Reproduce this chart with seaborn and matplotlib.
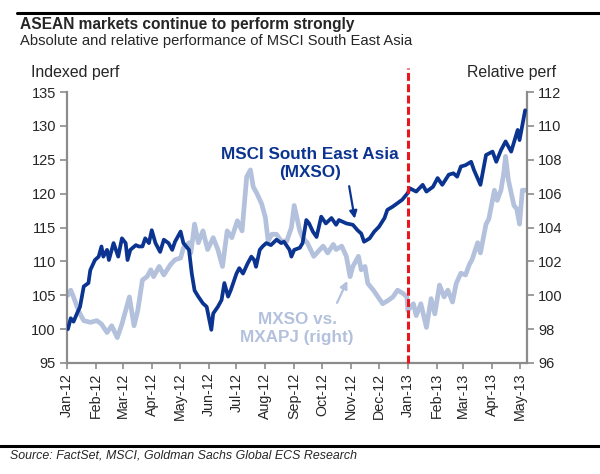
import numpy as np
import pandas as pd
import matplotlib
matplotlib.use("Agg")
import matplotlib.pyplot as plt
import matplotlib.dates as mdates
import seaborn as sns

# ---- data ----
mxso_dates = ["2012-01-02","2012-01-05","2012-01-08","2012-01-12","2012-01-15","2012-01-19","2012-01-24",
    "2012-01-26","2012-01-31","2012-02-04","2012-02-07","2012-02-09","2012-02-13","2012-02-15","2012-02-20",
    "2012-02-25","2012-02-29","2012-03-04","2012-03-06","2012-03-09","2012-03-15","2012-03-18","2012-03-22",
    "2012-03-25","2012-03-29","2012-04-01","2012-04-05","2012-04-10","2012-04-14","2012-04-19","2012-04-23",
    "2012-04-26","2012-05-02","2012-05-05","2012-05-11","2012-05-14","2012-05-17","2012-05-21","2012-05-26",
    "2012-05-30","2012-06-04","2012-06-06","2012-06-11","2012-06-15","2012-06-18","2012-06-22","2012-06-25",
    "2012-07-01","2012-07-04","2012-07-08","2012-07-13","2012-07-17","2012-07-20","2012-07-22","2012-07-26",
    "2012-07-29","2012-08-02","2012-08-07","2012-08-13","2012-08-18","2012-08-21","2012-08-27","2012-08-29",
    "2012-09-01","2012-09-07","2012-09-10","2012-09-14","2012-09-17","2012-09-21","2012-09-25","2012-09-30",
    "2012-10-05","2012-10-11","2012-10-16","2012-10-19","2012-10-27","2012-11-03","2012-11-08","2012-11-12",
    "2012-11-15","2012-11-21","2012-11-26","2012-12-01","2012-12-07","2012-12-10","2012-12-16","2012-12-21",
    "2012-12-26","2013-01-01","2013-01-03","2013-01-10","2013-01-17","2013-01-21","2013-01-28","2013-02-02",
    "2013-02-07","2013-02-14","2013-02-19","2013-02-23","2013-02-27","2013-03-04","2013-03-10","2013-03-13",
    "2013-03-20","2013-03-26","2013-04-02","2013-04-06","2013-04-11","2013-04-16","2013-04-22","2013-04-29",
    "2013-05-01","2013-05-07"]
mxso_values = [100.0,101.6,101.1,102.4,103.3,106.3,106.8,
    108.7,110.2,110.7,112.2,110.7,111.7,110.2,112.7,
    110.7,113.4,112.7,110.2,111.7,112.4,112.2,112.2,
    113.4,112.7,114.6,112.7,111.4,113.2,112.7,111.7,
    112.9,114.4,112.7,111.7,108.2,105.7,104.8,103.8,
    103.3,99.9,102.3,103.3,104.3,106.8,104.8,105.8,
    108.2,109.0,108.2,109.7,110.7,110.2,109.2,111.7,
    112.2,112.7,112.4,113.2,112.7,112.9,111.7,110.7,
    111.7,112.0,112.7,116.1,115.6,114.4,113.6,116.6,
    115.6,116.4,115.4,116.1,115.6,115.4,114.6,114.1,
    112.9,113.4,114.4,115.1,116.4,117.6,118.1,118.6,
    119.1,120.1,120.8,120.3,121.3,120.3,121.0,122.3,
    121.3,122.8,123.0,122.5,124.0,124.2,124.7,123.5,
    121.3,125.7,126.2,124.7,126.4,127.7,126.2,129.4,
    127.9,132.3]

rel_dates = ["2012-01-02","2012-01-05","2012-01-08","2012-01-12","2012-01-15","2012-01-19","2012-01-26",
    "2012-02-02","2012-02-07","2012-02-13","2012-02-18","2012-02-24","2012-02-29","2012-03-08","2012-03-13",
    "2012-03-17","2012-03-22","2012-03-27","2012-03-31","2012-04-03","2012-04-09","2012-04-14","2012-04-21",
    "2012-04-26","2012-05-02","2012-05-05","2012-05-11","2012-05-13","2012-05-17","2012-05-21","2012-05-26",
    "2012-05-31","2012-06-06","2012-06-11","2012-06-16","2012-06-21","2012-06-26","2012-07-02","2012-07-07",
    "2012-07-12","2012-07-16","2012-07-19","2012-07-23","2012-07-28","2012-08-01","2012-08-04","2012-08-08",
    "2012-08-13","2012-08-18","2012-08-24","2012-08-29","2012-09-01","2012-09-07","2012-09-10","2012-09-15",
    "2012-09-22","2012-10-02","2012-10-07","2012-10-13","2012-10-16","2012-10-22","2012-10-27","2012-10-31",
    "2012-11-03","2012-11-09","2012-11-12","2012-11-16","2012-11-19","2012-11-25","2012-11-30","2012-12-05",
    "2012-12-11","2012-12-16","2012-12-21","2012-12-27","2012-12-31","2013-01-01","2013-01-07","2013-01-10",
    "2013-01-15","2013-01-21","2013-01-26","2013-01-30","2013-02-04","2013-02-09","2013-02-13","2013-02-18",
    "2013-02-22","2013-02-27","2013-03-04","2013-03-08","2013-03-11","2013-03-17","2013-03-20","2013-03-26",
    "2013-03-29","2013-04-04","2013-04-07","2013-04-11","2013-04-14","2013-04-16","2013-04-19","2013-04-25",
    "2013-04-28","2013-05-01","2013-05-04","2013-05-07"]
rel_values = [100.0,100.3,99.9,99.3,98.9,98.5,98.4,
    98.5,98.3,97.8,98.2,97.5,98.3,99.9,98.2,
    99.1,100.9,101.1,101.5,101.1,101.7,101.2,101.8,
    102.1,102.2,102.8,103.1,102.5,104.2,103.1,103.8,
    102.7,103.4,102.7,101.7,103.8,103.4,104.4,103.8,
    107.0,107.4,106.4,106.0,105.4,104.6,103.2,103.6,
    103.6,103.2,103.2,104.0,105.3,103.8,103.4,103.1,
    102.3,102.9,102.5,103.0,102.7,102.9,102.3,101.1,
    101.7,102.3,101.5,101.7,100.7,100.3,99.9,99.5,
    99.7,99.9,100.3,100.1,99.9,99.1,99.5,98.8,
    99.5,98.1,99.8,98.9,100.6,99.9,100.3,99.6,
    100.7,101.3,101.2,101.8,102.1,103.1,102.5,104.2,
    104.5,106.2,105.6,106.2,107.2,108.2,106.8,105.3,
    105.1,104.2,106.2,106.2]

month_ticks = pd.date_range("2012-01-01", "2013-05-01", freq="MS")
left_ticks = [95, 100, 105, 110, 115, 120, 125, 130, 135]
right_ticks = [96, 98, 100, 102, 104, 106, 108, 110, 112]

df_abs = pd.DataFrame({"date": pd.to_datetime(mxso_dates), "value": mxso_values})
df_rel = pd.DataFrame({"date": pd.to_datetime(rel_dates), "value": rel_values})

# ---- style ----
sns.set_style("white")
plt.rcParams["font.family"] = ["Liberation Sans", "DejaVu Sans"]

DARK = "#0b3491"
LIGHT = "#b3c1dc"
GREY = "#8c8c8c"

fig = plt.figure(figsize=(6.0, 4.74), dpi=100)
ax = fig.add_axes([67/600, 1-363/474, 460/600, 271/474])
ax2 = ax.twinx()

sns.lineplot(data=df_rel, x="date", y="value", ax=ax2, color=LIGHT, linewidth=3.4, zorder=1)
sns.lineplot(data=df_abs, x="date", y="value", ax=ax, color=DARK, linewidth=2.7, zorder=3)

ax.set_zorder(ax2.get_zorder() + 1)
ax.patch.set_visible(False)

ax.set_xlim(pd.Timestamp("2012-01-01"), pd.Timestamp("2013-05-09"))
ax.set_ylim(95, 135)
ax2.set_ylim(96, 112)
ax.set_yticks(left_ticks)
ax2.set_yticks(right_ticks)
ax.set_xticks(month_ticks)
ax.xaxis.set_major_formatter(mdates.DateFormatter("%b-%y"))
ax.set_xlabel("")
ax.set_ylabel("")
ax2.set_ylabel("")
ax2.set_xlabel("")

for a in (ax, ax2):
    for s in a.spines.values():
        s.set_color(GREY)
        s.set_linewidth(1.6)
    a.spines["top"].set_visible(False)
ax.spines["right"].set_visible(False)
ax2.spines["left"].set_visible(False)
ax2.spines["bottom"].set_visible(False)

ax.tick_params(axis="y", which="both", left=True, direction="out", length=5, width=1.2,
               color=GREY, labelsize=10.5, pad=3)
ax2.tick_params(axis="y", which="both", right=True, direction="out", length=5, width=1.2,
                color=GREY, labelsize=10.5, pad=3)
ax.tick_params(axis="x", which="both", bottom=True, direction="out", length=4, width=1.2,
               color=GREY, labelsize=10.3, pad=3, labelrotation=90)

# red dashed separation line
ax.axvline(pd.Timestamp("2013-01-01"), ymin=0, ymax=1.089, color="#e8171d", lw=2.2,
           ls=(0, (2.6, 1.1)), clip_on=False, zorder=5)

# axis titles
fig.text(31/600, 1-72/474, "Indexed perf", fontsize=11.4, va="center", ha="left")
fig.text(556/600, 1-72/474, "Relative perf", fontsize=11.4, va="center", ha="right")

# annotations
ax.text(pd.Timestamp("2012-09-18"), 124.5, "MSCI South East Asia\n(MXSO)", color=DARK,
        fontsize=12.3, fontweight="bold", ha="center", va="center", linespacing=1.25)
ax.annotate("", xy=(pd.Timestamp("2012-11-05"), 116.3), xytext=(pd.Timestamp("2012-10-30"), 121.1),
            arrowprops=dict(arrowstyle="-|>", color=DARK, lw=1.6, mutation_scale=11,
                            shrinkA=0, shrinkB=0))
ax2.text(pd.Timestamp("2012-09-04"), 98.05, "MXSO vs.\nMXAPJ (right)", color=LIGHT,
         fontsize=12.3, fontweight="bold", ha="center", va="center", linespacing=1.25)
ax2.annotate("", xy=(pd.Timestamp("2012-10-28"), 100.85), xytext=(pd.Timestamp("2012-10-17"), 99.55),
             arrowprops=dict(arrowstyle="-|>", color=LIGHT, lw=1.6, mutation_scale=11,
                             shrinkA=0, shrinkB=0))

# title block
fig.add_artist(plt.Line2D([17/600, 1.0], [1-13/474, 1-13/474], color="black", lw=2.2))
fig.text(20/600, 1-24/474, "ASEAN markets continue to perform strongly", fontsize=11.2,
         fontweight="bold", va="center", ha="left")
fig.text(20/600, 1-41/474, "Absolute and relative performance of MSCI South East Asia",
         fontsize=10.6, va="center", ha="left")

# source
fig.add_artist(plt.Line2D([0.0, 1.0], [1-446/474, 1-446/474], color="black", lw=2.2))
fig.text(10/600, 1-456/474, "Source: FactSet, MSCI, Goldman Sachs Global ECS Research",
         fontsize=8.9, style="italic", va="center", ha="left")

fig.savefig("out.png", dpi=100)
